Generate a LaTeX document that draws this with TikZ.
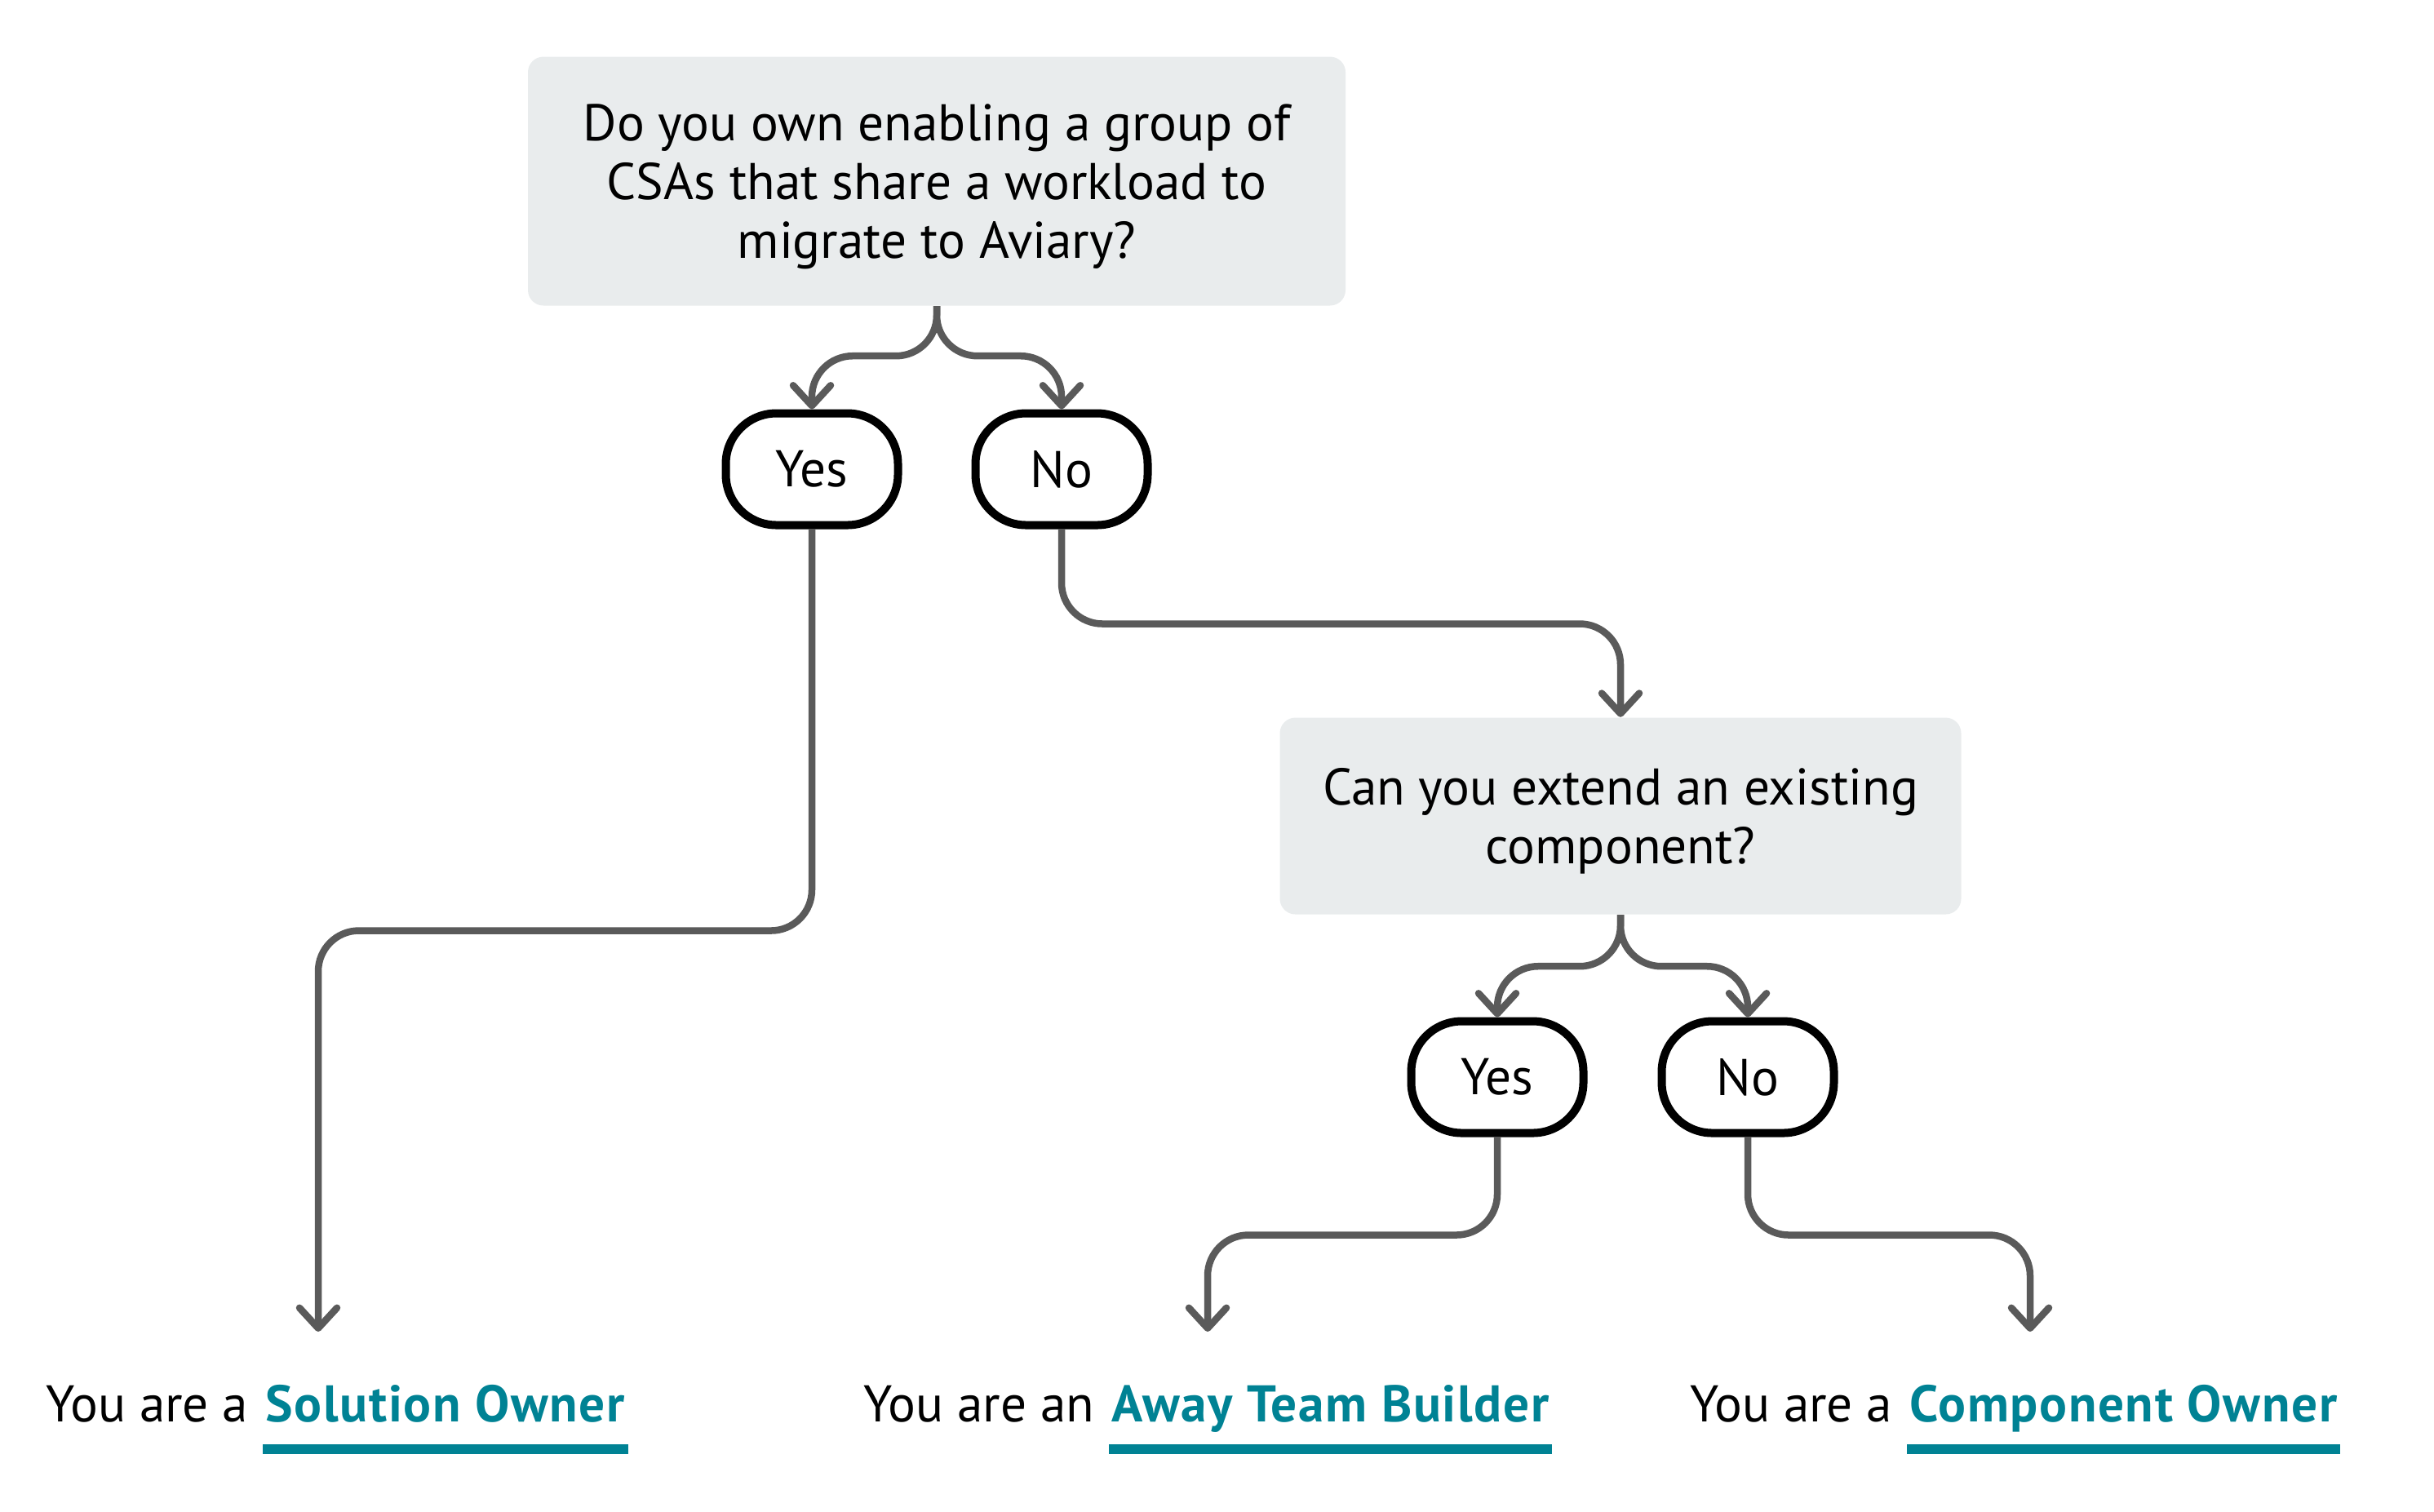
\documentclass[tikz,border=0pt]{standalone}
\usepackage{fontspec}
\setmainfont{PT Sans}
\usetikzlibrary{arrows.meta,positioning}
\definecolor{boxgray}{RGB}{233,236,237}
\definecolor{linegray}{RGB}{90,90,90}
\definecolor{roleteal}{RGB}{0,130,148}
\tikzset{
  txt/.style={font=\fontsize{18}{20.5}\selectfont},
  question/.style={txt, fill=boxgray, rounded corners=0.19cm, align=center, inner sep=0pt, text depth=0pt},
  answer/.style={txt, draw=black, line width=0.1cm, rounded corners=0.62cm, minimum width=2.11cm, minimum height=1.37cm},
  conn/.style={draw=linegray, line width=0.085cm, rounded corners=0.5cm, -{Straight Barb[length=2.5mm,width=4.6mm,round]}},
  lbl/.style={txt, inner sep=0pt},
  role/.style={lbl, font=\fontsize{18}{20.5}\selectfont\bfseries\addfontfeatures{LetterSpace=2.6}, text=roleteal},
  uline/.style={draw=roleteal, line width=0.12cm}
}
\begin{document}
\begin{tikzpicture}
\useasboundingbox (0,0) rectangle (29.83,-18.52);
% questions and answers
\node[question, minimum width=10.02cm, minimum height=3.05cm] (q1) at (11.48,-2.22) {Do you own enabling a group of\\CSAs that share a workload to\\migrate to Aviary?};
\node[answer] (y1) at (9.95,-5.75) {Yes};
\node[answer] (n1) at (13.01,-5.75) {No};
\node[question, minimum width=8.35cm, minimum height=2.41cm] (q2) at (19.86,-10.00) {Can you extend an existing\\component?};
\node[answer] (y2) at (18.35,-13.20) {Yes};
\node[answer] (n2) at (21.42,-13.20) {No};
% results
\node[role, anchor=base west] (soName) at (3.25,-17.42) {Solution Owner};
\node[lbl, base left=0.2cm of soName] (soPre) {You are a};
\node[role, anchor=base west] (atName) at (13.62,-17.42) {Away Team Builder};
\node[lbl, base left=0.2cm of atName] (atPre) {You are an};
\node[role, anchor=base west] (coName) at (23.40,-17.42) {Component Owner};
\node[lbl, base left=0.2cm of coName] (coPre) {You are a};
\coordinate (soTip) at (3.90,-16.32);
\coordinate (atTip) at (14.80,-16.32);
\coordinate (coTip) at (24.88,-16.32);
% connectors
\draw[conn] (q1.south) -- ++(0,-0.61) -| (y1.north);
\draw[conn] (q1.south) -- ++(0,-0.61) -| (n1.north);
\draw[conn] (y1.south) -- ++(0,-4.92) -| (soTip);
\draw[conn] (n1.south) -- ++(0,-1.16) -| (q2.north);
\draw[conn] (q2.south) -- ++(0,-0.63) -| (y2.north);
\draw[conn] (q2.south) -- ++(0,-0.63) -| (n2.north);
\draw[conn] (y2.south) -- ++(0,-1.20) -| (atTip);
\draw[conn] (n2.south) -- ++(0,-1.20) -| (coTip);
% underlines
\foreach \r in {so,at,co}
  \draw[uline] ([xshift=-0.03cm,yshift=-0.34cm]\r Name.base west) -- ([xshift=0.03cm,yshift=-0.34cm]\r Name.base east);
\end{tikzpicture}
\end{document}
